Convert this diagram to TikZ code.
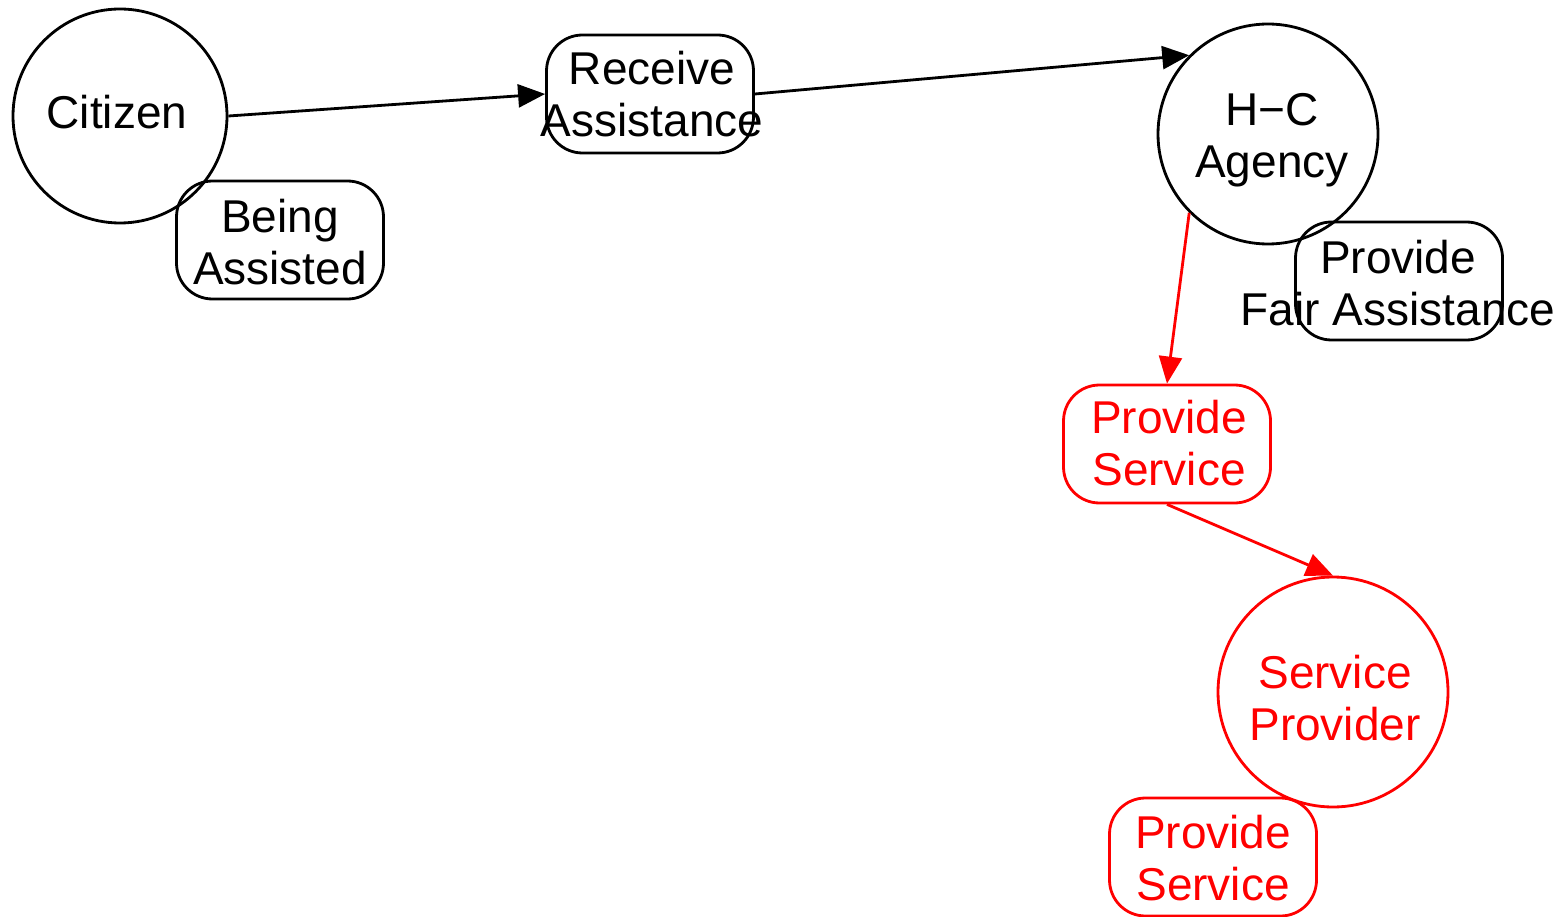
\documentclass[tikz,border=0pt]{standalone}
\usepackage{fontspec}
\setmainfont{Liberation Sans}
\usetikzlibrary{arrows.meta}
\begin{document}
\begin{tikzpicture}[x=1pt,y=-1pt,
  every node/.style={font=\fontsize{46}{52}\selectfont, align=center, inner sep=0pt},
  actor/.style={draw, circle, line width=2.8pt},
  role/.style={draw, rounded corners=36pt, line width=2.8pt, minimum width=207pt, minimum height=118pt},
  link/.style={line width=2.8pt, -{Triangle[length=27pt,width=23pt]}},
  hot/.style={red, draw=red, text=red}]
\useasboundingbox (0,0) rectangle (1563,917);

% actors
\node[actor, minimum size=214pt] (cit) at (120,116) {};
\node at (117,112) {Citizen};
\node[actor, minimum size=220pt] (hc) at (1268,134) {};
\node at (1272,140) {H−C\\Agency};
\node[actor, hot, minimum size=230pt] (sp) at (1333,692) {};
\node[text=red] at (1335,698) {Service\\Provider};

% roles
\node[role] (ba) at (280,240) {};
\node at (280,242) {Being\\Assisted};
\node[role] (ra) at (650,94) {};
\node at (652,94) {Receive\\Assistance};
\node[role] (pfa) at (1399,281) {};
\node at (1398,283) {Provide\\Fair Assistance};
\node[role, hot] (ps) at (1167,444) {};
\node[text=red] at (1169,443) {Provide\\Service};
\node[role, hot] (ps2) at (1213,857) {};
\node[text=red] at (1213,858) {Provide\\Service};

% connectors
\draw[link] (cit.east) -- (ra.west);
\draw[link] (ra.east) -- (hc.135);
\draw[link, red] (hc.225) -- (ps.north);
\draw[link, red] (ps.south) -- (sp.north);
\end{tikzpicture}
\end{document}
